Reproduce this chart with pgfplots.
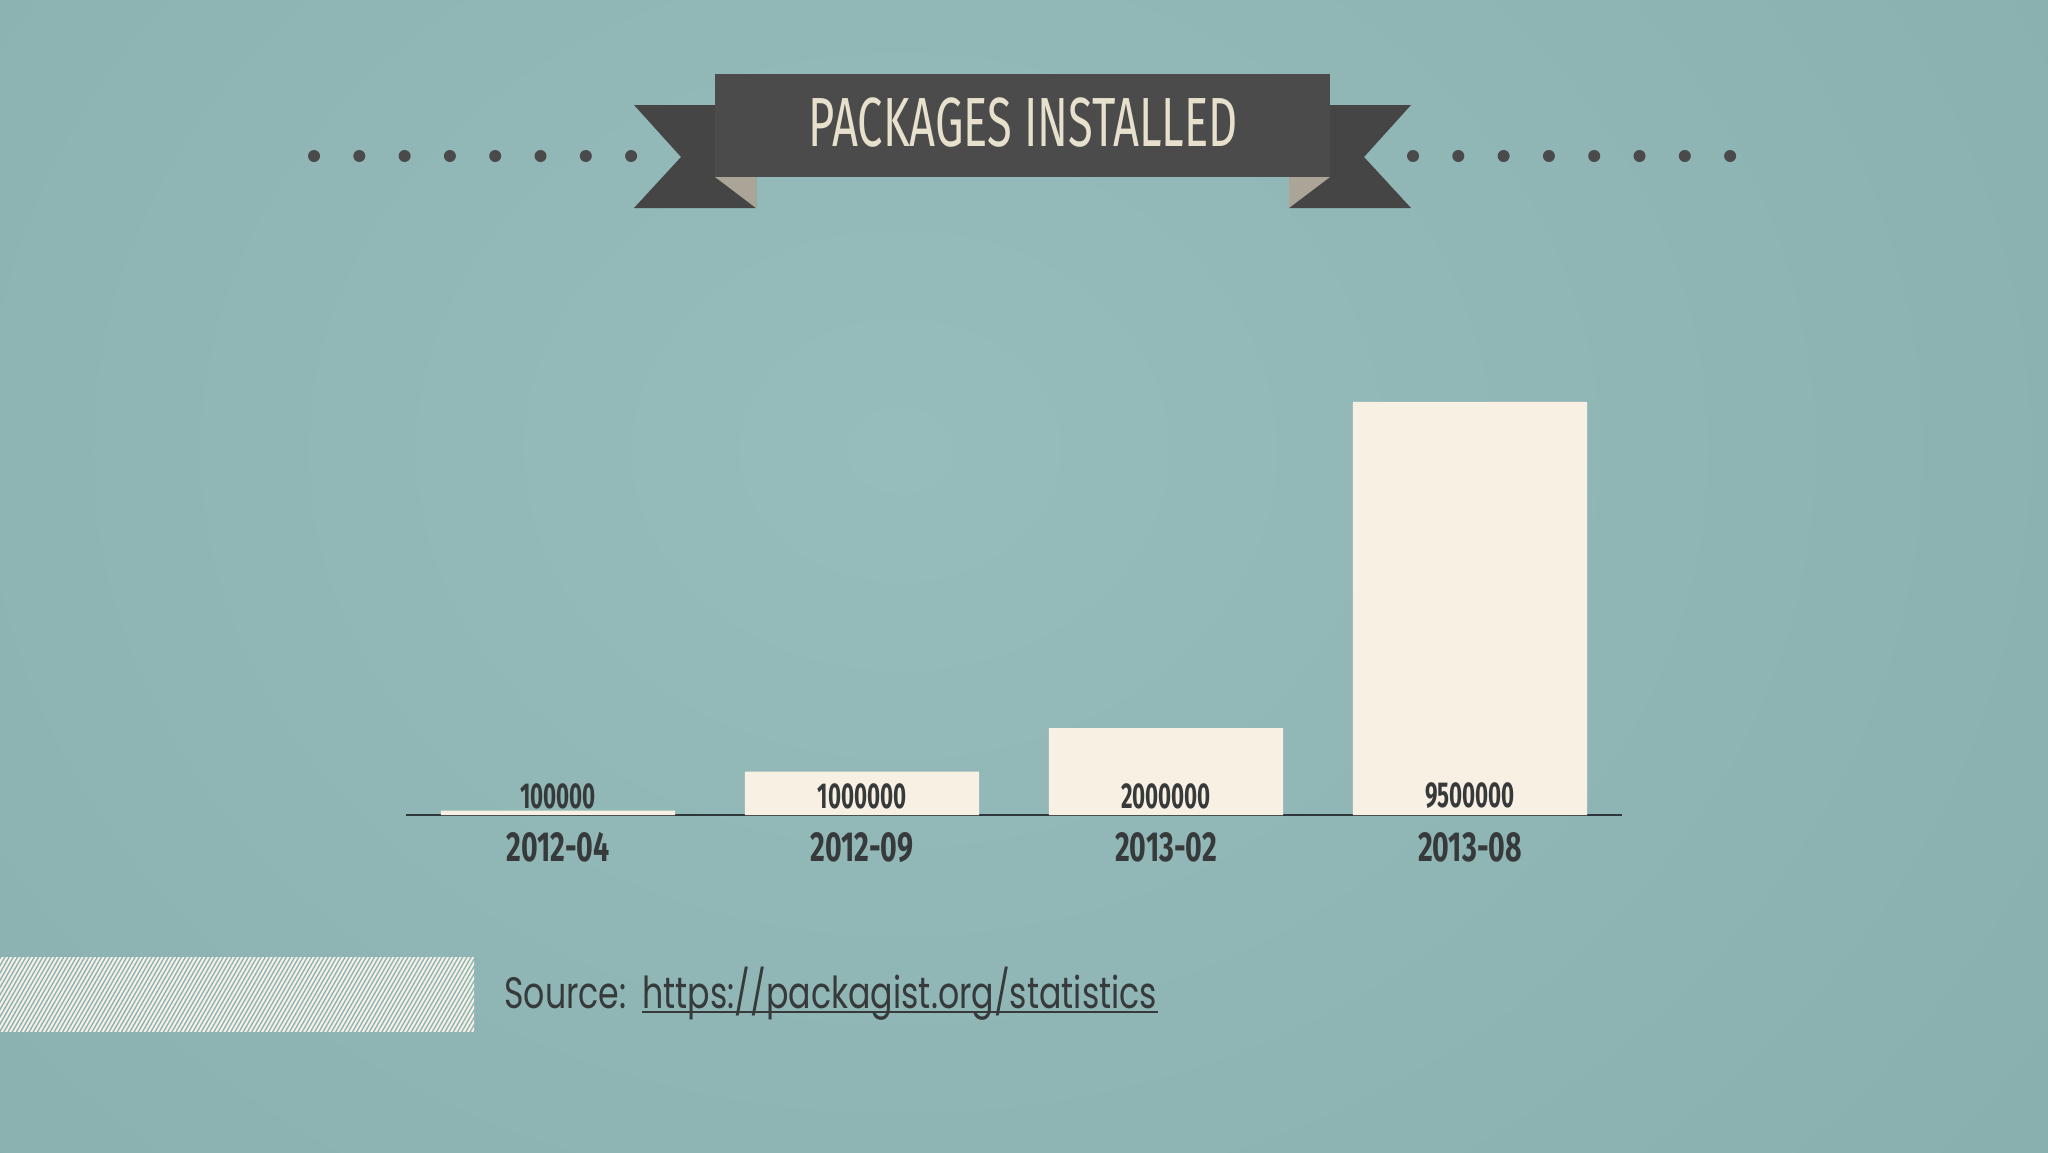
\documentclass[border=0pt]{standalone}
\usepackage{fontspec}
\usepackage{pgfplots}
\pgfplotsset{compat=1.18}
\newfontfamily\titlefont[FakeStretch=0.65]{Fira Sans}
\newfontfamily\numfont[FakeStretch=0.62]{Fira Sans}
\newfontfamily\catfont[FakeStretch=0.68]{Fira Sans}
\newfontfamily\srcfont[FakeStretch=0.755]{Poppins}
\definecolor{bgin}{HTML}{97BCBC}
\definecolor{bgout}{HTML}{8AAFAF}
\definecolor{banner}{HTML}{4C4B4B}
\definecolor{tail}{HTML}{454545}
\definecolor{fold}{HTML}{AAA596}
\definecolor{titletext}{HTML}{E6E0CC}
\definecolor{dotc}{HTML}{4A4A4A}
\definecolor{barc}{HTML}{F9F0E4}
\definecolor{axisc}{HTML}{2E383A}
\definecolor{txtc}{HTML}{373A3B}
\definecolor{hatchc}{HTML}{F5F1E6}
\begin{document}
\begin{tikzpicture}[x=0.5pt,y=-0.5pt]
\useasboundingbox (0,0) rectangle (2048,1152);
\fill[bgout] (0,0) rectangle (2048,1152);
\shade[inner color=bgin, outer color=bgout] (-500,-700) rectangle (2300,1600);
% dots
\foreach \k in {0,...,7} {
  \fill[dotc] (314+45.3*\k,156) circle (6);
  \fill[dotc] (1413+45.3*\k,156) circle (6);
}
% ribbon tails
\fill[tail] (634,105) -- (756,105) -- (756,208) -- (634,208) -- (681,157) -- cycle;
\fill[tail] (1411,105) -- (1289,105) -- (1289,208) -- (1411,208) -- (1364,157) -- cycle;
\fill[banner] (715,74) rectangle (1330,177);
\fill[fold] (715,177) -- (756,177) -- (756,208) -- cycle;
\fill[fold] (1330,177) -- (1289,177) -- (1289,208) -- cycle;
\node[anchor=base, inner sep=0pt, text=titletext, font=\titlefont\fontsize{34.8}{36}\selectfont] at (1023,146) {PACKAGES INSTALLED};
% hatch
\begin{scope}
\clip (0,957) rectangle (474,1031);
\foreach \i in {-15,...,120} {
  \draw[hatchc, line width=1pt] (\i*4.2,1035) -- ++(46,-80);
}
\end{scope}
% source
\node[anchor=base west, inner sep=0pt, text=txtc, font=\srcfont\fontsize{22}{24}\selectfont] (src) at (504,1008) {Source:};
\node[anchor=base west, inner sep=0pt, text=txtc, font=\srcfont\fontsize{22}{24}\selectfont] (url) at (642,1008) {https://packagist.org/statistics};
\draw[txtc, line width=1.1pt] ([yshift=-1.8pt]url.base west) -- ([yshift=-1.8pt]url.base east);
\begin{axis}[
  at={(203pt,-407.5pt)}, anchor=south west,
  scale only axis, width=608pt, height=217.4pt,
  xmin=-0.5, xmax=3.5, ymin=0, ymax=10000000,
  hide y axis,
  axis x line*=bottom,
  x axis line style={-, draw=axisc, line width=1pt},
  xtick={0,1,2,3},
  xticklabels={2012-04,2012-09,2013-02,2013-08},
  major tick length=0pt,
  xtick style={draw=none},
  xticklabel style={anchor=base, yshift=-23pt, inner sep=0pt, text=txtc, font=\catfont\bfseries\fontsize{21}{22}\selectfont},
  clip=false,
]
\addplot[ybar, bar width=0.77, fill=barc, draw=none] coordinates {(0,100000) (1,1000000) (2,2000000) (3,9500000)};
\addplot[draw=none, mark=none, nodes near coords, point meta=explicit symbolic,
  every node near coord/.append style={anchor=south, inner sep=0pt, yshift=3pt, text=txtc, font=\numfont\bfseries\fontsize{18}{19}\selectfont}]
  coordinates {(0,0) [100000] (1,0) [1000000] (2,0) [2000000] (3,0) [9500000]};
\end{axis}
\end{tikzpicture}
\end{document}
